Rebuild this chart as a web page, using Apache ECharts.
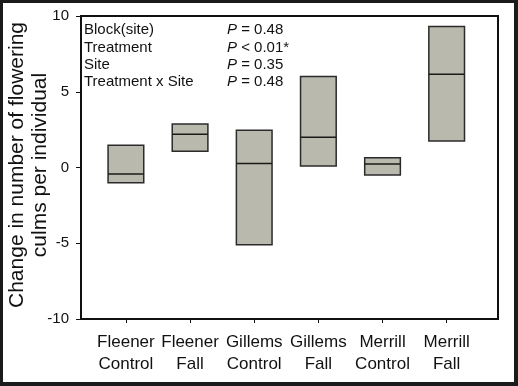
<!DOCTYPE html>
<html>
<head>
<meta charset="utf-8">
<script src="https://cdn.jsdelivr.net/npm/echarts@6/dist/echarts.min.js"></script>
<style>
  html, body { margin: 0; padding: 0; width: 518px; height: 386px; background: #1b1b1b; overflow: hidden; }
  #main { position: absolute; left: 3px; top: 3px; width: 511px; height: 379px; background: #ffffff; }
</style>
</head>
<body>
<div id="main"></div>
<script>
// Data
const categories = ['Fleener\nControl', 'Fleener\nFall', 'Gillems\nControl', 'Gillems\nFall', 'Merrill\nControl', 'Merrill\nFall'];
const lowerValues = [-1.0, 1.08, -5.1, 0.1, -0.5, 1.75];
const medianValues = [-0.43, 2.2, 0.27, 2.0, 0.23, 6.15];
const upperValues = [1.47, 2.87, 2.46, 6.0, 0.65, 9.3];
const yTicks = [-10, -5, 0, 5, 10];
const effectLabels = ['Block(site)', 'Treatment', 'Site', 'Treatment x Site'];
const pValueTexts = ['= 0.48', '< 0.01*', '= 0.35', '= 0.48'];

const positions = categories.map((c, i) => i + 1);
const boxData = categories.map((c, i) => [positions[i], lowerValues[i], medianValues[i], upperValues[i]]);

const chart = echarts.init(document.getElementById('main'), null, { renderer: 'canvas' });

const FONT = '"Liberation Sans", Arial, sans-serif';
const halfW = 0.278;

const annotationGraphics = [];
effectLabels.forEach((t, i) => {
  const y = 28.7 + i * 17.2;
  annotationGraphics.push({
    type: 'text', left: 81, top: y - 9,
    style: { text: t, font: '15px ' + FONT, fill: '#111' }
  });
  annotationGraphics.push({
    type: 'text', left: 224, top: y - 9,
    style: {
      text: '{i|P} ' + pValueTexts[i],
      font: '15px ' + FONT, fill: '#111',
      rich: { i: { fontStyle: 'italic', fontSize: 15, fontFamily: FONT, fill: '#111' } }
    }
  });
});

const option = {
  animation: false,
  backgroundColor: '#ffffff',
  grid: {
    left: 78, top: 13, width: 417, height: 303,
    show: true, borderColor: '#111', borderWidth: 2, backgroundColor: 'transparent'
  },
  xAxis: {
    type: 'value', min: 0.3, max: 6.8,
    splitLine: { show: false },
    axisLine: { show: true, onZero: false, lineStyle: { color: '#111', width: 2 } },
    axisTick: { show: true, customValues: positions, length: 4, lineStyle: { color: '#111', width: 1 } },
    axisLabel: {
      customValues: positions,
      formatter: v => categories[Math.round(v) - 1] || '',
      fontFamily: FONT, fontSize: 17, color: '#111', lineHeight: 22, margin: 12
    }
  },
  yAxis: {
    type: 'value', min: -10, max: 10, interval: 5,
    splitLine: { show: false },
    axisLine: { show: true, lineStyle: { color: '#111', width: 2 } },
    axisTick: { show: true, length: 5, lineStyle: { color: '#111', width: 1 } },
    axisLabel: {
      formatter: v => (yTicks.indexOf(v) >= 0 ? String(v) : ''),
      fontFamily: FONT, fontSize: 15, color: '#111', margin: 12
    }
  },
  graphic: [
    {
      type: 'text',
      x: 26, y: 162,
      rotation: Math.PI / 2,
      style: {
        text: 'Change in number of flowering\nculms per individual',
        font: '21px ' + FONT, fill: '#111',
        align: 'center', verticalAlign: 'middle', lineHeight: 23
      }
    }
  ].concat(annotationGraphics),
  series: [{
    type: 'custom',
    data: boxData,
    encode: { x: 0, y: [1, 2, 3] },
    renderItem: function (params, api) {
      const x = api.value(0), lo = api.value(1), med = api.value(2), hi = api.value(3);
      const tl = api.coord([x - halfW, hi]);
      const br = api.coord([x + halfW, lo]);
      const ml = api.coord([x - halfW, med]);
      const mr = api.coord([x + halfW, med]);
      return {
        type: 'group',
        children: [
          {
            type: 'rect',
            shape: { x: tl[0], y: tl[1], width: br[0] - tl[0], height: br[1] - tl[1] },
            style: { fill: '#b9b9ad', stroke: '#2b2b2b', lineWidth: 1.5 }
          },
          {
            type: 'line',
            shape: { x1: ml[0], y1: ml[1], x2: mr[0], y2: mr[1] },
            style: { stroke: '#1a1a1a', lineWidth: 1.5 }
          }
        ]
      };
    }
  }]
};

chart.setOption(option);
</script>
</body>
</html>
